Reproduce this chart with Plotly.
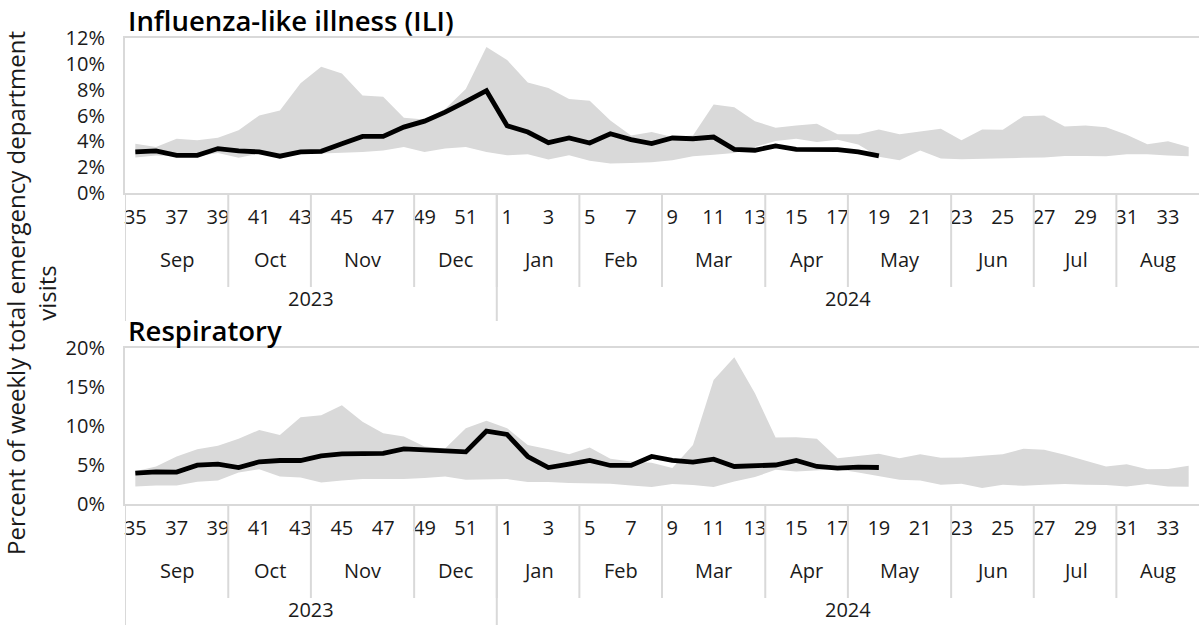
import plotly.graph_objects as go

# ---------------- data ----------------
weeks = list(range(35, 53)) + list(range(1, 35))
month_labels = ["Sep", "Oct", "Nov", "Dec", "Jan", "Feb", "Mar", "Apr", "May", "Jun", "Jul", "Aug"]
month_week_counts = [5, 4, 5, 4, 4, 4, 5, 4, 5, 4, 4, 4]
year_labels = ["2023", "2024"]
year_week_counts = [18, 34]

ili_current = [3.18, 3.26, 2.92, 2.92, 3.44, 3.26, 3.18, 2.85, 3.18, 3.23, 3.82, 4.38, 4.38, 5.10,
               5.56, 6.26, 7.08, 7.92, 5.20, 4.72, 3.90, 4.26, 3.87, 4.59, 4.13, 3.82, 4.26, 4.20,
               4.33, 3.38, 3.31, 3.64, 3.38, 3.36, 3.36, 3.18, 2.87]
ili_upper = [3.82, 3.56, 4.20, 4.08, 4.28, 4.85, 6.00, 6.38, 8.49, 9.77, 9.26, 7.54, 7.46, 5.82,
             5.70, 6.50, 8.05, 11.30, 10.30, 8.56, 8.13, 7.28, 7.15, 5.62, 4.46, 4.72, 4.33, 4.46,
             6.85, 6.64, 5.56, 5.05, 5.23, 5.36, 4.54, 4.54, 4.92, 4.54, 4.77, 4.97, 4.08, 4.92,
             4.90, 5.95, 6.00, 5.15, 5.23, 5.10, 4.51, 3.77, 4.00, 3.56]
ili_lower = [2.74, 2.90, 2.85, 2.85, 3.10, 2.72, 3.05, 2.85, 3.00, 3.05, 3.10, 3.18, 3.30, 3.56,
             3.18, 3.44, 3.56, 3.18, 2.92, 3.00, 2.59, 2.92, 2.49, 2.28, 2.33, 2.38, 2.54, 2.85,
             2.97, 3.10, 3.56, 4.03, 4.20, 3.95, 4.13, 3.75, 2.80, 2.54, 3.30, 2.67, 2.62, 2.67,
             2.69, 2.72, 2.74, 2.87, 2.87, 2.85, 3.00, 3.00, 2.90, 2.85]

resp_current = [3.96, 4.13, 4.09, 4.98, 5.11, 4.68, 5.41, 5.58, 5.58, 6.18, 6.43, 6.47, 6.50, 7.07,
                6.94, 6.94, 6.69, 9.35, 8.91, 6.09, 4.68, 5.11, 5.58, 4.94, 4.94, 6.09, 5.58, 5.37,
                5.75, 4.81, 4.90, 5.00, 5.58, 4.81, 4.60, 4.73, 4.68]
resp_upper = [4.20, 4.81, 6.09, 7.03, 7.46, 8.35, 9.50, 8.86, 11.12, 11.38, 12.66, 10.56, 9.08, 8.65,
              7.37, 7.10, 9.72, 10.67, 9.72, 7.58, 7.03, 6.39, 7.24, 5.79, 5.45, 5.30, 4.60, 7.58,
              15.90, 18.80, 14.19, 8.52, 8.56, 8.35, 5.88, 6.18, 6.43, 5.88, 6.39, 5.92, 5.96, 6.18,
              6.39, 7.07, 6.94, 6.31, 5.58, 4.81, 5.11, 4.47, 4.50, 4.90]
resp_lower = [2.25, 2.38, 2.38, 2.85, 3.02, 4.04, 4.47, 3.53, 3.41, 2.76, 3.02, 3.19, 3.19, 3.19,
              3.32, 3.53, 3.11, 3.19, 3.19, 2.81, 2.81, 2.68, 2.60, 2.60, 2.38, 2.17, 2.55, 2.43,
              2.17, 2.89, 3.45, 4.39, 4.17, 4.30, 4.47, 4.04, 3.53, 3.11, 3.02, 2.47, 2.60, 2.04,
              2.47, 2.34, 2.47, 2.55, 2.47, 2.43, 2.25, 2.55, 2.25, 2.21]

titles = ["Influenza-like illness (ILI)", "Respiratory"]
y_title = "Percent of weekly total emergency department<br>visits"

# ---------------- layout helpers ----------------
W, H = 1199, 625
FONT = "Open Sans"
TXT = "#1a1a1a"
GRID = "#d9d9d9"
BAND = "#d9d9d9"

def py(p):  # pixel -> paper y
    return 1 - p / H

idx = list(range(len(weeks)))
panels = [
    dict(cur=ili_current, up=ili_upper, lo=ili_lower, top=38, bot=193, ymax=12, dt=2, title=titles[0]),
    dict(cur=resp_current, up=resp_upper, lo=resp_lower, top=348, bot=504, ymax=20, dt=5, title=titles[1]),
]

fig = go.Figure()
shapes, annotations = [], []

for k, p in enumerate(panels):
    xa = "x" if k == 0 else "x2"
    ya = "y" if k == 0 else "y2"
    fig.add_trace(go.Scatter(x=idx, y=p["lo"], mode="lines", line=dict(width=0, color=BAND),
                             xaxis=xa, yaxis=ya, showlegend=False, hoverinfo="skip"))
    fig.add_trace(go.Scatter(x=idx, y=p["up"], mode="lines", line=dict(width=0, color=BAND),
                             fill="tonexty", fillcolor=BAND, xaxis=xa, yaxis=ya, showlegend=False))
    fig.add_trace(go.Scatter(x=idx[:len(p["cur"])], y=p["cur"], mode="lines",
                             line=dict(width=4.8, color="black"), xaxis=xa, yaxis=ya, showlegend=False))

    xkey = "xaxis" if k == 0 else "xaxis2"
    ykey = "yaxis" if k == 0 else "yaxis2"
    odd = [i for i, w in enumerate(weeks) if w % 2 == 1]
    fig.layout[xkey] = dict(
        domain=[0, 1], anchor=ya, range=[-0.5, len(weeks) - 0.5],
        tickmode="array", tickvals=odd, ticktext=[str(weeks[i]) for i in odd],
        tickfont=dict(family=FONT, size=20, color=TXT), ticks="", ticklabelstandoff=5,
        showline=True, linecolor=GRID, linewidth=2, mirror=True, showgrid=False, zeroline=False,
        automargin=False,
    )
    fig.layout[ykey] = dict(
        domain=[py(p["bot"]), py(p["top"])], anchor=xa, range=[0, p["ymax"]],
        tickmode="linear", tick0=0, dtick=p["dt"], ticksuffix="%",
        tickfont=dict(family=FONT, size=20, color=TXT), ticks="", ticklabelstandoff=14,
        showline=True, linecolor=GRID, linewidth=2, showgrid=False, zeroline=False,
        automargin=False,
    )

    bot = p["bot"]
    # month separators and labels
    start = 0
    for lab, n in zip(month_labels, month_week_counts):
        shapes.append(dict(type="line", xref=xa, yref="paper", x0=start - 0.5, x1=start - 0.5,
                           y0=py(bot + 2), y1=py(bot + 94), line=dict(color=GRID, width=2)))
        annotations.append(dict(xref=xa, yref="paper", x=start + (n - 1) / 2, y=py(bot + 66),
                                text=lab, showarrow=False, yanchor="middle",
                                font=dict(family=FONT, size=20, color=TXT)))
        start += n
    # year separators and labels
    start = 0
    for lab, n in zip(year_labels, year_week_counts):
        shapes.append(dict(type="line", xref=xa, yref="paper", x0=start - 0.5, x1=start - 0.5,
                           y0=py(bot + 2), y1=py(min(bot + 128, H)), line=dict(color=GRID, width=2)))
        annotations.append(dict(xref=xa, yref="paper", x=start + (n - 1) / 2, y=py(bot + 105),
                                text=lab, showarrow=False, yanchor="middle",
                                font=dict(family=FONT, size=20, color=TXT)))
        start += n
    # panel title
    annotations.append(dict(xref="paper", yref="paper", x=0.001, y=py(p["top"] - 18),
                            text=p["title"], showarrow=False, xanchor="left",
                            yanchor="middle", font=dict(family=FONT, size=27.5, color="black", weight=600)))

annotations.append(dict(xref="paper", yref="paper", x=(31 - 125) / (W - 125), y=py(293),
                        text=y_title, showarrow=False, textangle=-90, xanchor="center",
                        yanchor="middle", font=dict(family=FONT, size=24, color=TXT)))

fig.update_layout(
    width=W, height=H, margin=dict(l=125, r=0, t=0, b=0, pad=0, autoexpand=False),
    paper_bgcolor="white", plot_bgcolor="white",
    shapes=shapes, annotations=annotations, showlegend=False,
)

fig.write_html("out.html", config={"displayModeBar": False},
               post_script="document.body.style.margin='0';document.body.style.overflow='hidden';")
